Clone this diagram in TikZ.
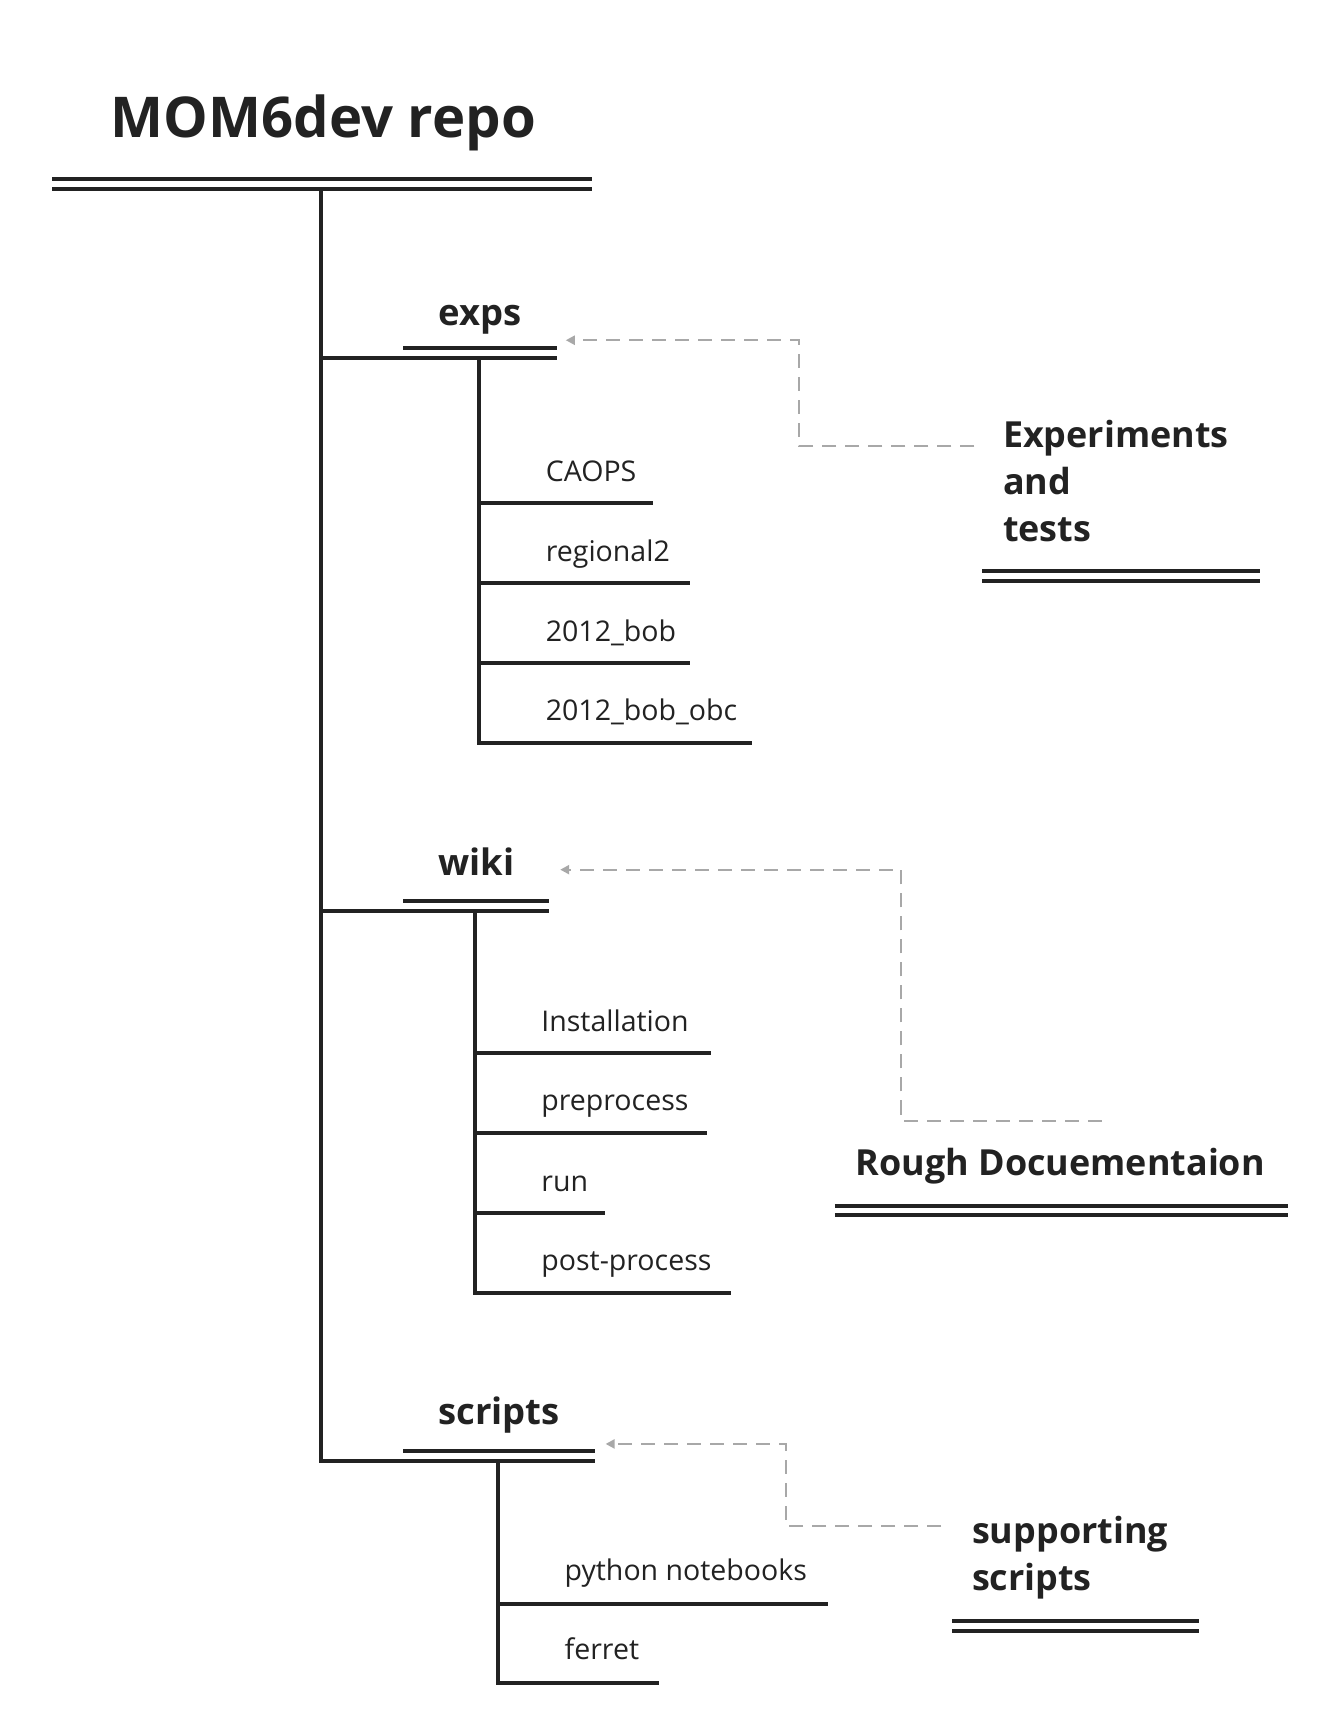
\documentclass[tikz,border=0pt]{standalone}
\usepackage{fontspec}
\setmainfont{Open Sans}
\usetikzlibrary{arrows.meta}
\definecolor{ink}{HTML}{222222}
\definecolor{relgray}{HTML}{A8A8A8}
\begin{document}
\begin{tikzpicture}[x=0.5533pt,y=-0.5533pt,
  every node/.style={inner sep=0pt,outer sep=0pt,text=ink,anchor=base west},
  titletext/.style={font=\fontsize{28.1}{34}\selectfont\bfseries},
  topictext/.style={font=\fontsize{18.2}{22}\selectfont\bfseries},
  leaftext/.style={font=\fontsize{14.25}{17}\selectfont},
  floattext/.style={font=\fontsize{17.95}{23.6}\selectfont\bfseries,align=left},
  bar/.style={draw=ink,line width=1.95pt},
  rel/.style={draw=relgray,line width=1.1pt,dash pattern=on 7pt off 4.5pt,
    -{Triangle[length=4.5pt,width=4.5pt]}},
]
\useasboundingbox[fill=white] (0,0) rectangle (1209,1568);

% ---------- root ----------
\node[titletext] (root) at (100,124) {MOM6dev repo};
\draw[bar] (47,161.7) -- (535,161.7);
\draw[bar] (47,170.8) -- (535,170.8);
\coordinate (trunktop) at (290,170.8);

% ---------- main topics ----------
\node[topictext] (exps) at (396,294) {exps};
\node[topictext] (wiki) at (396,790.7) {wiki};
\node[topictext] (scripts) at (396,1286.2) {scripts};

\coordinate (expsL) at (290,323.5);
\coordinate (wikiL) at (290,823);
\coordinate (scriptsL) at (290,1319.9);

\draw[bar] (364,314.5) -- (503,314.5);
\draw[bar] (expsL) -- (503,323.5);
\draw[bar] (364,813.9) -- (496,813.9);
\draw[bar] (wikiL) -- (496,823);
\draw[bar] (364,1310.8) -- (537,1310.8);
\draw[bar] (trunktop) -- (scriptsL) -- (537,1319.9);

% ---------- exps children ----------
\node[leaftext] (caops) at (493,435) {CAOPS};
\node[leaftext] (reg2) at (493,507) {regional2};
\node[leaftext] (bob) at (493,579) {2012\_bob};
\node[leaftext] (bobobc) at (493,651) {2012\_bob\_obc};
\coordinate (expsV) at (433,323.5);
\draw[bar] (433,454) -- (590,454);
\draw[bar] (433,526.5) -- (623,526.5);
\draw[bar] (433,599) -- (623,599);
\draw[bar] (expsV) -- (433,671) -- (679,671);

% ---------- wiki children ----------
\node[leaftext] (inst) at (489,931.3) {Installation};
\node[leaftext] (prep) at (489,1003) {preprocess};
\node[leaftext] (run) at (489,1075.9) {run};
\node[leaftext] (post) at (489,1147.6) {post-process};
\coordinate (wikiV) at (429,823);
\draw[bar] (429,951.2) -- (642,951.2);
\draw[bar] (429,1023.5) -- (639,1023.5);
\draw[bar] (429,1095.8) -- (546,1095.8);
\draw[bar] (wikiV) -- (429,1168) -- (660,1168);

% ---------- scripts children ----------
\node[leaftext] (py) at (510,1427.7) {python notebooks};
\node[leaftext] (ferret) at (510,1499) {ferret};
\coordinate (scriptsV) at (450,1319.9);
\draw[bar] (450,1448.5) -- (748,1448.5);
\draw[bar] (scriptsV) -- (450,1520.5) -- (595,1520.5);

% ---------- floating topics (base anchor = last line) ----------
\node[floattext] (exp) at (906,489.5) {Experiments\\and\\tests};
\draw[bar] (887,515.7) -- (1138,515.7);
\draw[bar] (887,524.7) -- (1138,524.7);

\node[floattext] (rough) at (773,1061.7) {Rough Docuementaion};
\draw[bar] (754,1088.9) -- (1163,1088.9);
\draw[bar] (754,1097.6) -- (1163,1097.6);

\node[floattext] (supp) at (878,1436.7) {supporting\\scripts};
\draw[bar] (860,1464.4) -- (1083,1464.4);
\draw[bar] (860,1473.5) -- (1083,1473.5);

% ---------- relationships ----------
\coordinate (expStart) at (880,402.8);
\coordinate (expsEnd) at (511,307.3);
\draw[rel] (expStart) -- (722,402.8) -- (722,307.3) -- (expsEnd);

\coordinate (roughStart) at (995,1012.7);
\coordinate (wikiEnd) at (506,785.5);
\draw[rel] (roughStart) -- (814,1012.7) -- (814,785.5) -- (wikiEnd);

\coordinate (suppStart) at (850,1378);
\coordinate (scriptsEnd) at (547,1304.2);
\draw[rel] (suppStart) -- (710,1378) -- (710,1304.2) -- (scriptsEnd);
\end{tikzpicture}
\end{document}
